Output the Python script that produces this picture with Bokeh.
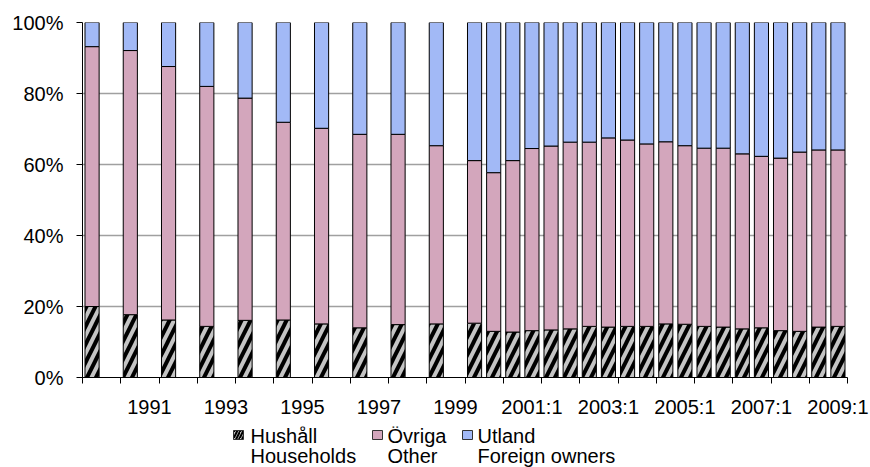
from bokeh.plotting import figure
from bokeh.layouts import column
from bokeh.models import ColumnDataSource, FixedTicker, Range1d, CanvasTexture
from bokeh.core.properties import value
from bokeh.embed import file_html
from bokeh.resources import INLINE

# ---------------- data ----------------
periods = ["1990", "1991", "1992", "1993", "1994", "1995", "1996", "1997", "1998", "1999",
           "2000:1", "2000:2", "2001:1", "2001:2", "2002:1", "2002:2", "2003:1", "2003:2",
           "2004:1", "2004:2", "2005:1", "2005:2", "2006:1", "2006:2", "2007:1", "2007:2",
           "2008:1", "2008:2", "2009:1", "2009:2"]

households = [20.0, 17.7, 16.2, 14.4, 16.1, 16.2, 15.1, 14.0, 14.9, 15.1,
              15.3, 13.0, 12.8, 13.2, 13.4, 13.7, 14.4, 14.2,
              14.4, 14.4, 15.1, 15.0, 14.4, 14.2, 13.7, 14.0,
              13.2, 13.0, 14.2, 14.4]

other = [73.2, 74.4, 71.4, 67.6, 62.6, 55.7, 55.1, 54.5, 53.6, 50.2,
         45.8, 44.7, 48.3, 51.3, 51.8, 52.6, 51.9, 53.3,
         52.5, 51.4, 51.3, 50.3, 50.2, 50.4, 49.3, 48.3,
         48.6, 50.5, 49.9, 49.7]

foreign = [6.8, 7.9, 12.4, 18.0, 21.3, 28.1, 29.8, 31.5, 31.5, 34.7,
           38.9, 42.3, 38.9, 35.5, 34.8, 33.7, 33.7, 32.5,
           33.1, 34.2, 33.6, 34.7, 35.4, 35.4, 37.0, 37.7,
           38.2, 36.5, 35.9, 35.9]

tick_labels = ["1991", "1993", "1995", "1997", "1999",
               "2001:1", "2003:1", "2005:1", "2007:1", "2009:1"]
y_ticks = [0, 20, 40, 60, 80, 100]

names_sv = ["Hushåll", "Övriga", "Utland"]
names_en = ["Households", "Other", "Foreign owners"]

# ---------------- helpers ----------------
def period_pos(label):
    # annual bars sit in the first half-year slot of their year
    if ":" in label:
        yr, half = label.split(":")
        return int(yr) + (int(half) - 1) * 0.5 + 0.25
    return int(label) + 0.25

x_pos = [period_pos(s) for s in periods]
label_pos = [period_pos(s) + 0.5 for s in tick_labels]
year_ticks = list(range(1990, 2011))

FONT = "Liberation Sans"

checker = CanvasTexture(code="""
const s = scale / 2;
ctx.fillStyle = '#993366';
ctx.fillRect(0, 0, s, s);
ctx.fillRect(s, s, s, s);
""")

fills = ["#c4c4c4", "white", "#a2b9f6"]
hatches = [value("/"), value("checker"), value("blank")]
hatch_colors = ["black", "#993366", "black"]
hatch_scales = [18, 6, 10]
hatch_weights = [4, 1, 1]

# ---------------- main figure ----------------
W = 870
FR_LEFT, FR_RIGHT = 82, 847
H_MAIN = 426
p = figure(width=W, height=H_MAIN,
           x_range=Range1d(1990, 2010), y_range=Range1d(0, 100),
           output_backend="svg", toolbar_location=None,
           min_border_left=FR_LEFT, min_border_right=W - FR_RIGHT, min_border_top=22,
           min_border_bottom=H_MAIN - 377)
p.outline_line_color = None
p.background_fill_color = "white"
p.border_fill_color = "white"

src = ColumnDataSource(dict(x=x_pos, hh=households, other=other, foreign=foreign))
p.vbar_stack(["hh", "other", "foreign"], x="x", width=0.37, source=src,
             fill_color=fills, line_color="black", line_width=1,
             hatch_pattern=hatches, hatch_color=hatch_colors,
             hatch_scale=hatch_scales, hatch_weight=hatch_weights,
             hatch_extra={"checker": checker})

p.xgrid.visible = False
p.ygrid.ticker = FixedTicker(ticks=y_ticks)
p.ygrid.grid_line_color = "#a0a0a0"
p.ygrid.grid_line_width = 1.3
p.ygrid.level = "underlay"

xa = p.xaxis[0]
xa.ticker = FixedTicker(ticks=label_pos, minor_ticks=year_ticks)
xa.major_label_overrides = {pos: lab for pos, lab in zip(label_pos, tick_labels)}
xa.major_tick_line_color = None
xa.major_tick_out = 6
xa.major_tick_in = 0
xa.minor_tick_line_color = "black"
xa.minor_tick_out = 6
xa.minor_tick_in = 0
xa.axis_line_color = "black"
xa.major_label_standoff = 12
xa.major_label_text_font = FONT
xa.major_label_text_font_size = "20px"
xa.major_label_text_color = "black"

ya = p.yaxis[0]
ya.ticker = FixedTicker(ticks=y_ticks)
ya.major_label_overrides = {v: f"{v}%" for v in y_ticks}
ya.major_tick_out = 6
ya.major_tick_in = 0
ya.minor_tick_line_color = None
ya.axis_line_color = "black"
ya.major_tick_line_color = "black"
ya.major_label_standoff = 13
ya.major_label_text_font = FONT
ya.major_label_text_font_size = "20px"
ya.major_label_text_color = "black"

# ---------------- legend figure (frame aligned with the main frame) ----------------
H_LEG = 467 - H_MAIN
leg = figure(width=W, height=H_LEG, x_range=Range1d(FR_LEFT, FR_RIGHT),
             y_range=Range1d(H_LEG, 0),
             output_backend="svg", toolbar_location=None,
             x_axis_type=None, y_axis_type=None, min_border=0,
             min_border_left=FR_LEFT, min_border_right=W - FR_RIGHT)
leg.outline_line_color = None
leg.grid.visible = False
leg.background_fill_color = "white"
leg.border_fill_color = "white"

sq_x = [238, 377, 467]
tx_x = [250, 387, 477]
lsrc = ColumnDataSource(dict(x=sq_x, y=[8.5, 8.5, 8.5], fill=fills,
                             hatch=["/", "checker", "blank"],
                             hcol=hatch_colors, hsc=[6, 4, 10], hw=[2, 1, 1]))
leg.rect(x="x", y="y", width=10, height=9, source=lsrc, fill_color="fill",
         line_color="#333333", line_width=1, hatch_pattern="hatch", hatch_color="hcol",
         hatch_scale="hsc", hatch_weight="hw", hatch_extra={"checker": checker})
leg.text(x=tx_x, y=[9.5, 9.5, 9.5], text=names_sv, text_font=value(FONT),
         text_font_size="20px", text_color="black", text_baseline="middle",
         text_align="left")
leg.text(x=tx_x, y=[29, 29, 29], text=names_en, text_font=value(FONT),
         text_font_size="20px", text_color="black", text_baseline="middle",
         text_align="left")

layout = column(p, leg, spacing=0)
open("out.html", "w").write(file_html(layout, INLINE))
